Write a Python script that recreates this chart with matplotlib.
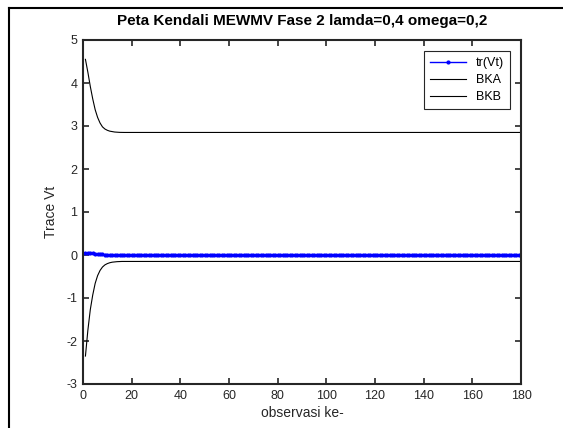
import matplotlib
matplotlib.use("Agg")
import matplotlib.pyplot as plt
from matplotlib.lines import Line2D

plt.rcParams['font.family'] = ['Liberation Sans', 'DejaVu Sans']
plt.rcParams['axes.unicode_minus'] = False

n_obs = 180
obs = list(range(1, n_obs + 1))

# tr(Vt): tiny values right at the start, then flat at zero
tr_head = [0.05, 0.045, 0.04, 0.035, 0.03, 0.025, 0.02, 0.015, 0.01, 0.008,
           0.006, 0.004, 0.003, 0.002, 0.001]
tr_vt = tr_head + [0.0] * (n_obs - len(tr_head))

# upper limit (BKA)
bka_head = [4.55, 4.25, 3.92, 3.63, 3.38, 3.2, 3.07, 2.98, 2.93, 2.9,
            2.88, 2.87, 2.86, 2.855, 2.852]
bka = bka_head + [2.85] * (n_obs - len(bka_head))

# lower limit (BKB)
bkb_head = [-2.35, -1.75, -1.27, -0.93, -0.66, -0.48, -0.36, -0.28, -0.23, -0.2,
            -0.18, -0.167, -0.16, -0.155, -0.152]
bkb = bkb_head + [-0.15] * (n_obs - len(bkb_head))

xticks = list(range(0, 181, 20))
yticks = list(range(-3, 6))

fig = plt.figure(figsize=(5.63, 4.28), dpi=100)
ax = fig.add_axes([83/563, 1-384/428, (521-83)/563, (384-40)/428])

ax.plot(obs, tr_vt, color='blue', lw=1.0, marker='.', markersize=4, label='tr(Vt)')
ax.plot(obs, bka, color='black', lw=0.8, label='BKA')
ax.plot(obs, bkb, color='black', lw=0.8, label='BKB')

ax.set_xlim(0, 180)
ax.set_ylim(-3, 5)
ax.set_xticks(xticks)
ax.set_yticks(yticks)
ax.tick_params(direction='in', top=True, right=True, labelsize=9,
               colors='#262626', length=4, width=1.2, pad=4)
for s in ax.spines.values():
    s.set_linewidth(1.5)
    s.set_color('#262626')

ax.set_title('Peta Kendali MEWMV Fase 2 lamda=0,4 omega=0,2',
             fontsize=11, fontweight='bold', pad=11)
ax.set_xlabel('observasi ke-', fontsize=10, color='#262626', labelpad=3)
ax.set_ylabel('Trace Vt', fontsize=10, color='#262626', labelpad=6)

leg = ax.legend(loc='upper right', fontsize=9, frameon=True, fancybox=False,
                edgecolor='#262626', framealpha=1, handlelength=2.9,
                borderaxespad=0.9, labelspacing=0.4, borderpad=0.45)
leg.get_frame().set_linewidth(0.8)

# outer frame of the picture (left and top edges)
fig.add_artist(Line2D([9/563, 9/563], [0, 1-8/428], color='black', lw=1.5,
                      transform=fig.transFigure))
fig.add_artist(Line2D([9/563, 1], [1-8/428, 1-8/428], color='black', lw=1.5,
                      transform=fig.transFigure))

fig.savefig('out.png', dpi=100)
